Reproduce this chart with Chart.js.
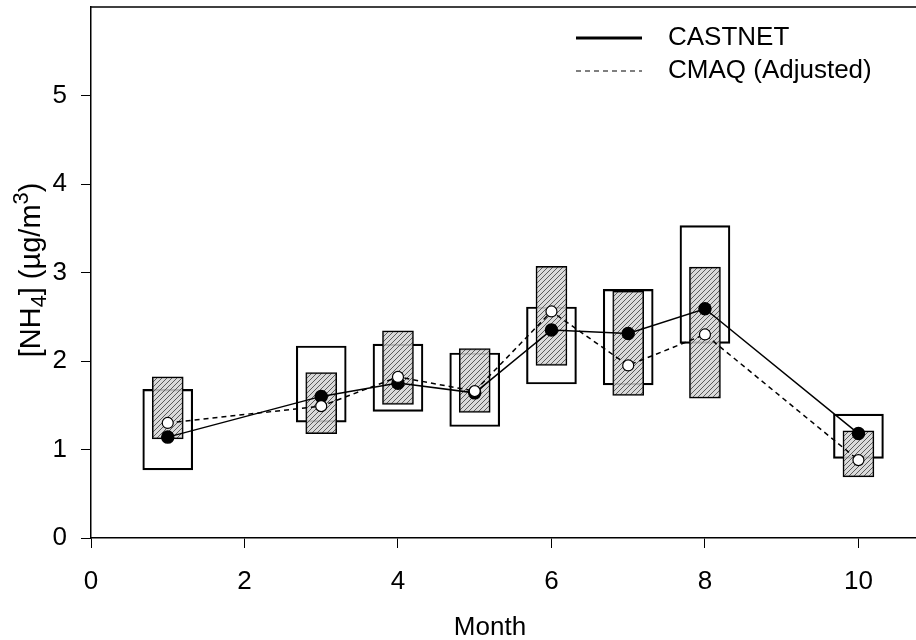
<!DOCTYPE html>
<html>
<head>
<meta charset="UTF-8">
<script src="https://cdn.jsdelivr.net/npm/chart.js@4.4.0/dist/chart.umd.min.js"></script>
<style>
    html, body {
        margin: 0;
        padding: 0;
        background: #fff;
    }
    .chart-container {
        position: relative;
        width: 916px;
        height: 640px;
    }
</style>
</head>
<body>
<div class="chart-container">
    <canvas id="nh4Chart"></canvas>
</div>

<script>
// month of each observation group
const months = [1, 3, 4, 5, 6, 7, 8, 10];

// mean concentrations
const castnetMean = [1.14, 1.60, 1.75, 1.64, 2.35, 2.31, 2.59, 1.18];
const cmaqMean    = [1.30, 1.49, 1.82, 1.66, 2.56, 1.95, 2.30, 0.88];

// box ranges (open boxes = CASTNET, hatched boxes = CMAQ)
const castnetLow  = [0.77, 1.31, 1.43, 1.26, 1.74, 1.73, 2.20, 0.90];
const castnetHigh = [1.68, 2.17, 2.19, 2.09, 2.61, 2.81, 3.53, 1.40];
const cmaqLow     = [1.12, 1.18, 1.51, 1.42, 1.95, 1.61, 1.58, 0.69];
const cmaqHigh    = [1.82, 1.87, 2.34, 2.14, 3.07, 2.79, 3.06, 1.21];

const xTicks = [0, 2, 4, 6, 8, 10];
const yTicks = [0, 1, 2, 3, 4, 5];

const FONT = "'Liberation Sans', Arial, sans-serif";
const FS = 26;

function makeHatch() {
    const c = document.createElement('canvas');
    c.width = 5;
    c.height = 5;
    const g = c.getContext('2d');
    g.fillStyle = 'rgba(212,212,212,0.85)';
    g.fillRect(0, 0, 5, 5);
    g.strokeStyle = '#5a5a5a';
    g.lineWidth = 1;
    g.beginPath();
    g.moveTo(0, 5); g.lineTo(5, 0);
    g.moveTo(-1, 1); g.lineTo(1, -1);
    g.moveTo(4, 6); g.lineTo(6, 4);
    g.stroke();
    return g.createPattern(c, 'repeat');
}

const toPts = (ys) => months.map((m, i) => ({ x: m, y: ys[i] }));
const toBars = (lo, hi) => months.map((m, i) => ({ x: m, y: [lo[i], hi[i]] }));

// frame top line, legend, axis titles (y title needs sub/superscript)
const extras = {
    id: 'extras',
    afterDraw(chart) {
        const ctx = chart.ctx;
        const area = chart.chartArea;
        ctx.save();
        ctx.strokeStyle = '#000';
        ctx.lineWidth = 1.5;
        ctx.beginPath();
        ctx.moveTo(area.left, area.top);
        ctx.lineTo(chart.width, area.top);
        ctx.stroke();

        // legend
        const items = [
            { text: 'CASTNET', dash: [], width: 3, y: 38 },
            { text: 'CMAQ (Adjusted)', dash: [5, 4], width: 1.2, y: 71 }
        ];
        ctx.font = FS + 'px ' + FONT;
        ctx.fillStyle = '#000';
        ctx.textBaseline = 'middle';
        ctx.textAlign = 'left';
        items.forEach(it => {
            ctx.setLineDash(it.dash);
            ctx.lineWidth = it.width;
            ctx.beginPath();
            ctx.moveTo(576, it.y);
            ctx.lineTo(642, it.y);
            ctx.stroke();
            ctx.setLineDash([]);
            ctx.fillText(it.text, 668, it.y);
        });

        // x title
        ctx.textAlign = 'center';
        ctx.fillText('Month', 490, 628);

        // y title: [NH4] (ug/m3)
        const TF = 29;
        const parts = [
            { t: '[NH', f: TF, dy: 0 },
            { t: '4', f: TF * 0.75, dy: 6 },
            { t: '] (\u00b5g/m', f: TF, dy: 0 },
            { t: '3', f: TF * 0.75, dy: -12 },
            { t: ')', f: TF, dy: 0 }
        ];
        let total = 0;
        parts.forEach(p => {
            ctx.font = p.f + 'px ' + FONT;
            p.w = ctx.measureText(p.t).width;
            total += p.w;
        });
        ctx.translate(40, 270);
        ctx.rotate(-Math.PI / 2);
        ctx.textAlign = 'left';
        ctx.textBaseline = 'alphabetic';
        let x = -total / 2;
        parts.forEach(p => {
            ctx.font = p.f + 'px ' + FONT;
            ctx.fillText(p.t, x, p.dy);
            x += p.w;
        });
        ctx.restore();
    }
};

const ctx = document.getElementById('nh4Chart').getContext('2d');

new Chart(ctx, {
    type: 'bar',
    data: {
        datasets: [
            {
                type: 'line',
                label: 'CMAQ (Adjusted)',
                data: toPts(cmaqMean),
                borderColor: '#000',
                borderWidth: 1.5,
                borderDash: [5, 4],
                pointRadius: 5.5,
                pointBackgroundColor: '#fff',
                pointBorderColor: '#000',
                pointBorderWidth: 1.2,
                order: 0
            },
            {
                type: 'line',
                label: 'CASTNET',
                data: toPts(castnetMean),
                borderColor: '#000',
                borderWidth: 1.5,
                pointRadius: 6,
                pointBackgroundColor: '#000',
                pointBorderColor: '#000',
                order: 1
            },
            {
                label: 'CMAQ range',
                data: toBars(cmaqLow, cmaqHigh),
                backgroundColor: makeHatch(),
                borderColor: '#000',
                borderWidth: 1.5,
                borderSkipped: false,
                barThickness: 31,
                grouped: false,
                order: 2
            },
            {
                label: 'CASTNET range',
                data: toBars(castnetLow, castnetHigh),
                backgroundColor: 'rgba(255,255,255,0)',
                borderColor: '#000',
                borderWidth: 1.5,
                borderSkipped: false,
                barThickness: 50,
                grouped: false,
                order: 3
            }
        ]
    },
    options: {
        responsive: true,
        maintainAspectRatio: false,
        animation: false,
        layout: {
            autoPadding: false,
            padding: { top: 7, right: 0, left: 0, bottom: 0 }
        },
        plugins: {
            legend: { display: false },
            tooltip: { enabled: false }
        },
        scales: {
            x: {
                type: 'linear',
                offset: false,
                min: 0,
                max: 10.75,
                afterFit: s => {
                    s.height = 102;
                    s.paddingLeft = 0;
                    s.paddingRight = 0;
                },
                afterBuildTicks: s => { s.ticks = xTicks.map(v => ({ value: v })); },
                ticks: {
                    color: '#000',
                    padding: 18,
                    font: { family: FONT, size: FS }
                },
                grid: {
                    offset: false,
                    drawOnChartArea: false,
                    drawTicks: true,
                    tickLength: 10,
                    color: '#000',
                    lineWidth: 1
                },
                border: { color: '#000', width: 1.5 }
            },
            y: {
                min: 0,
                max: 6,
                afterFit: s => {
                    s.width = 91;
                    s.paddingTop = 0;
                    s.paddingBottom = 0;
                },
                afterBuildTicks: s => { s.ticks = yTicks.map(v => ({ value: v })); },
                ticks: {
                    color: '#000',
                    padding: 14,
                    font: { family: FONT, size: FS }
                },
                grid: {
                    offset: false,
                    drawOnChartArea: false,
                    drawTicks: true,
                    tickLength: 10,
                    color: '#000',
                    lineWidth: 1
                },
                border: { color: '#000', width: 1.5 }
            }
        }
    },
    plugins: [extras]
});
</script>
</body>
</html>
